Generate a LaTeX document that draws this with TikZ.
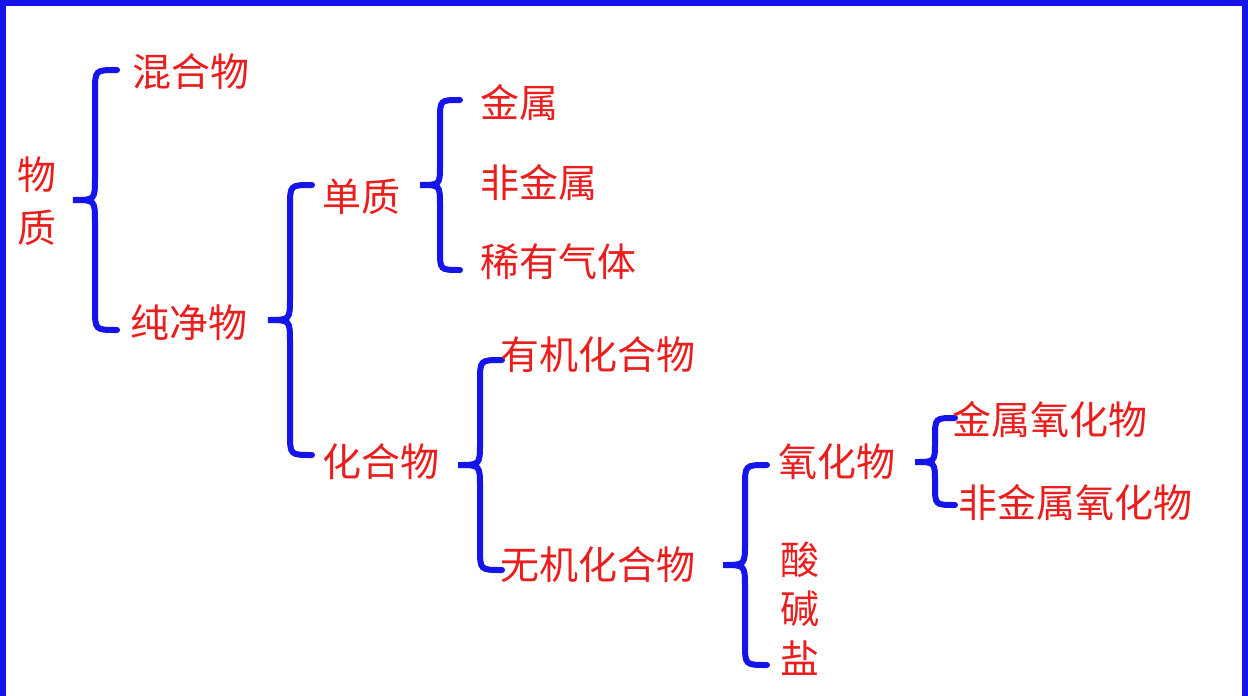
\documentclass[tikz,border=0pt]{standalone}
\usepackage{fontspec}
\newfontfamily\cjk{Noto Sans CJK SC}
\definecolor{bl}{RGB}{20,20,235}
\definecolor{rd}{RGB}{235,30,30}
\begin{document}
\begin{tikzpicture}[x=1pt,y=-1pt,
 t/.style={text=rd,font=\cjk\fontsize{39}{44}\selectfont,anchor=west,inner sep=0pt},
 br/.style={draw=bl,line width=6pt,line cap=round}]
\useasboundingbox (0,0) rectangle (1248,696);
\fill[white] (0,0) rectangle (1248,696);
\draw[bl,line width=6pt] (3,700) -- (3,3) -- (1245,3) -- (1245,700);
\newcommand\mybr[5]{% x, y1, y2, width, ymid
 \draw[br] (#1+#4,#2) .. controls (#1,#2) .. (#1,#2+#4) -- (#1,#5-#4) .. controls (#1,#5) .. (#1-#4,#5)
  .. controls (#1,#5) .. (#1,#5+#4) -- (#1,#3-#4) .. controls (#1,#3) .. (#1+#4,#3);}
\mybr{95}{70}{330}{22}{200}
\mybr{290}{185}{455}{22}{320}
\mybr{440}{100}{270}{20}{185}
\mybr{480}{360}{570}{22}{465}
\mybr{745}{465}{665}{22}{565}
\mybr{935}{418}{505}{20}{462}
\node[t] (w) at (17,175) {物};
\node[t] (z) at (17,228) {质};
\node[t] (a) at (132,72) {混合物};
\node[t] (b) at (130,323) {纯净物};
\node[t] (c) at (322,197) {单质};
\node[t] (d) at (480,103) {金属};
\node[t] (e) at (480,183) {非金属};
\node[t] (f) at (480,262) {稀有气体};
\node[t] (g) at (322,462) {化合物};
\node[t] (h) at (500,355) {有机化合物};
\node[t] (i) at (500,565) {无机化合物};
\node[t] (j) at (778,462) {氧化物};
\node[t] (k) at (780,560) {酸};
\node[t] (l) at (780,609) {碱};
\node[t] (m) at (780,658) {盐};
\node[t] (n) at (952,420) {金属氧化物};
\node[t] (o) at (958,503) {非金属氧化物};
\end{tikzpicture}
\end{document}
